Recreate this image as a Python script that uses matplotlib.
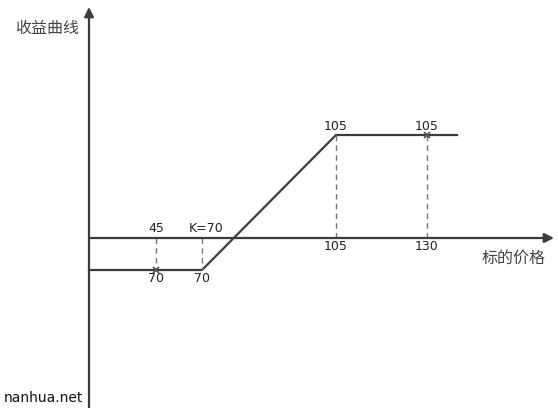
import matplotlib.pyplot as plt

plt.rcParams['font.family'] = ['DejaVu Sans']

# schematic positions along the axes (not to scale, like the original drawing)
price_pos = [0, 113, 247, 368]      # start, K=70, 105, end of flat
payoff_pos = [-32, -32, 103, 103]   # payoff level at each point
ref_x = [67, 113, 247, 338]         # dashed reference lines
ref_y = [-32, -32, 103, 103]
mark_x = [67, 338]
mark_y = [-32, 103]

above_labels = ['45', 'K=70', '105', '105']
below_labels = ['70', '70', '105', '130']

fig = plt.figure(figsize=(5.58, 4.08), dpi=100)
ax = fig.add_axes([0, 0, 1, 1])
ax.set_xlim(-89, 469)
ax.set_ylim(-170, 238)
ax.axis('off')

line_col = '#3c3c3c'

# axes with arrows
ax.annotate('', xy=(465, 0), xytext=(0, 0),
            arrowprops=dict(arrowstyle='-|>', color=line_col, lw=1.6,
                            mutation_scale=14, shrinkA=0, shrinkB=0))
ax.annotate('', xy=(0, 231), xytext=(0, -172),
            arrowprops=dict(arrowstyle='-|>', color=line_col, lw=1.6,
                            mutation_scale=14, shrinkA=0, shrinkB=0))

# payoff curve
ax.plot(price_pos, payoff_pos, color=line_col, lw=1.6, solid_joinstyle='miter')

# dashed guides
for x, y in zip(ref_x, ref_y):
    ax.plot([x, x], [0, y], color='#777777', lw=1.0, ls=(0, (4, 3)))

ax.plot(mark_x, mark_y, 'x', color='#555555', ms=5, mew=1.3)

# labels
label_y_above = [9, 9, 112, 112]
label_y_below = [-41, -41, -9, -9]
above_x = [67, 117, 247, 338]
for x, y, t in zip(above_x, label_y_above, above_labels):
    ax.text(x, y, t, ha='center', va='center', fontsize=9, color='#222222')
for x, y, t in zip(ref_x, label_y_below, below_labels):
    ax.text(x, y, t, ha='center', va='center', fontsize=9, color='#222222')

cjk = ['Noto Sans CJK SC', 'DejaVu Sans']
ax.text(425, -20, '标的价格', ha='center', va='center', fontsize=11.5,
        family=cjk, color='#444444')
ax.text(-42, 210, '收益曲线', ha='center', va='center', fontsize=11.5,
        family=cjk, color='#444444')
ax.text(-46, -160, 'nanhua.net', ha='center', va='center', fontsize=10,
        color='#111111')

fig.savefig('out.png', dpi=100)
